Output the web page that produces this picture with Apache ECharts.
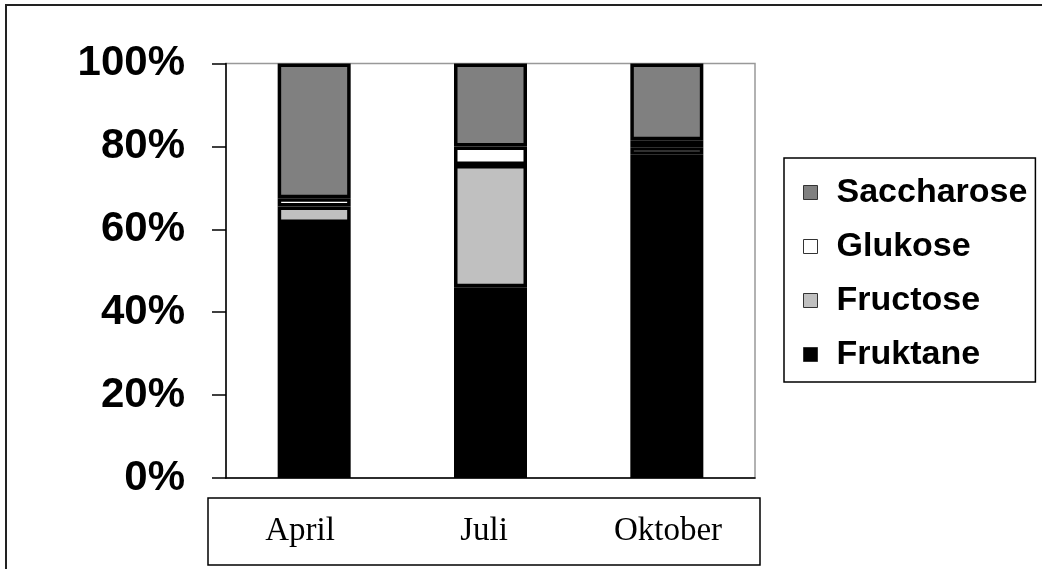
<!DOCTYPE html>
<html>
<head>
<meta charset="utf-8">
<script src="https://cdn.jsdelivr.net/npm/echarts@6/dist/echarts.min.js"></script>
<style>
  html, body { margin: 0; padding: 0; background: #fff; }
  #chart { width: 1042px; height: 569px; }
</style>
</head>
<body>
<div id="chart"></div>
<script>
// Sugar composition (% of total) per harvest month
const months = ['April', 'Juli', 'Oktober'];
const fruktane = [61.5, 46, 78];
const fructose = [4, 29.5, 1.8];
const glukose = [2, 4.5, 1.7];
const saccharose = [32.5, 20, 18.5];
const legendOrder = ['Saccharose', 'Glukose', 'Fructose', 'Fruktane'];

const sans = 'Liberation Sans, Arial, sans-serif';
const serif = 'Liberation Serif, Times New Roman, serif';

function stackSeries(name, data, color) {
  return {
    name: name,
    type: 'bar',
    stack: 'total',
    xAxisIndex: 0,
    yAxisIndex: 0,
    barWidth: 73,
    data: data,
    itemStyle: { color: color, borderColor: '#000', borderWidth: 3.5 },
    emphasis: { disabled: true }
  };
}

const chart = echarts.init(document.getElementById('chart'), null, { renderer: 'canvas' });
chart.setOption({
  animation: false,
  backgroundColor: '#fff',
  graphic: [{
    type: 'rect',
    shape: { x: 6, y: 5, width: 1100, height: 620 },
    style: { fill: 'none', stroke: '#222', lineWidth: 2 },
    silent: true
  }],
  grid: [
    { left: 226, top: 63.5, right: 287, bottom: 91, show: true, borderColor: '#999', borderWidth: 1.5 },
    { left: 208, top: 498, right: 282, height: 67, show: true, borderColor: '#000', borderWidth: 1.5, backgroundColor: '#fff' }
  ],
  legend: {
    orient: 'vertical',
    left: 784,
    top: 158,
    width: 253,
    data: legendOrder,
    padding: [15, 8, 8, 19],
    itemGap: 15,
    itemWidth: 14,
    itemHeight: 14,
    icon: 'rect',
    borderColor: '#000',
    borderWidth: 1.5,
    itemStyle: { borderWidth: 1, borderColor: '#333' },
    textStyle: { fontFamily: sans, fontSize: 34, fontWeight: 'bold', color: '#000', lineHeight: 39, padding: [0, 0, 0, 14] }
  },
  xAxis: [
    {
      type: 'category',
      gridIndex: 0,
      data: months,
      axisLine: { lineStyle: { color: '#000', width: 1.5 } },
      axisTick: { length: 9, lineStyle: { color: '#000', width: 1.5 } },
      axisLabel: { show: false }
    },
    {
      type: 'category',
      gridIndex: 1,
      data: months,
      axisLine: { show: false },
      axisTick: { show: false },
      axisLabel: {
        inside: true,
        margin: 34,
        verticalAlign: 'middle',
        fontFamily: serif,
        fontSize: 33,
        color: '#000'
      }
    }
  ],
  yAxis: [
    {
      type: 'value',
      gridIndex: 0,
      min: 0,
      max: 100,
      interval: 20,
      splitLine: { show: false },
      axisLine: { show: true, lineStyle: { color: '#000', width: 1.5 } },
      axisTick: { show: true, length: 14, lineStyle: { color: '#000', width: 1.5 } },
      axisLabel: {
        formatter: '{value}%',
        margin: 41,
        fontFamily: sans,
        fontSize: 42,
        fontWeight: 'bold',
        color: '#000'
      }
    },
    { type: 'value', gridIndex: 1, show: false }
  ],
  series: [
    stackSeries('Fruktane', fruktane, '#000000'),
    stackSeries('Fructose', fructose, '#c0c0c0'),
    stackSeries('Glukose', glukose, '#ffffff'),
    stackSeries('Saccharose', saccharose, '#808080')
  ]
});
</script>
</body>
</html>
